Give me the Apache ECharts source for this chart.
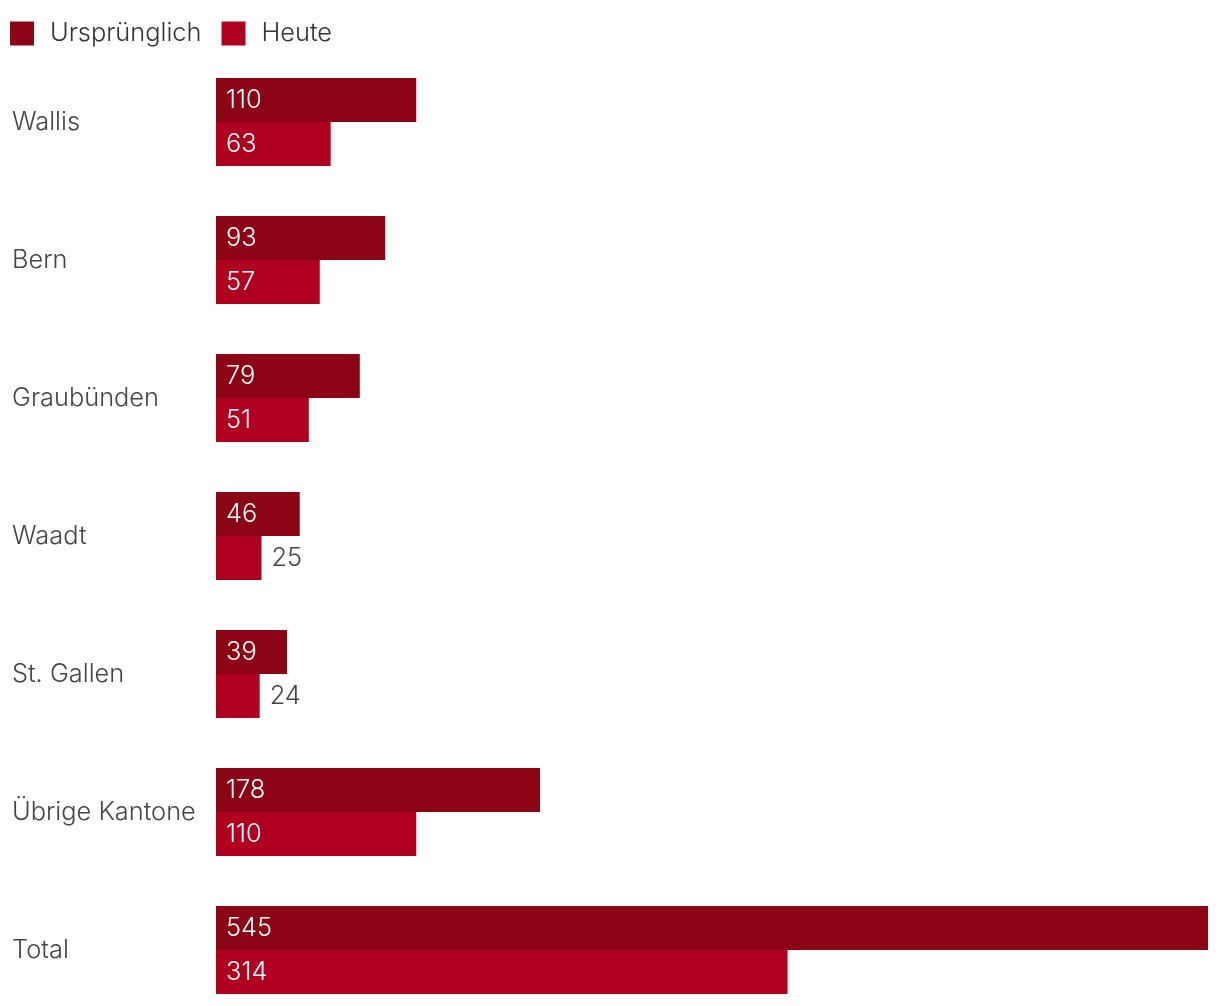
<!DOCTYPE html>
<html>
<head>
<meta charset="utf-8">
<script src="https://cdn.jsdelivr.net/npm/echarts@6/dist/echarts.min.js"></script>
<style>html,body{margin:0;padding:0;background:#fff;}#c{width:1220px;height:1006px;}</style>
</head>
<body>
<div id="c"></div>
<script>
const categories = ['Wallis', 'Bern', 'Graubünden', 'Waadt', 'St. Gallen', 'Übrige Kantone', 'Total'];
const seriesNames = ['Ursprünglich', 'Heute'];
const original = [110, 93, 79, 46, 39, 178, 545];
const today = [63, 57, 51, 25, 24, 110, 314];

const FONT = 'Inter, Roboto, sans-serif';
const FS = 25.4;
const colors = ['#8c0515', '#b0001f'];

function items(vals) {
  return vals.map(v => v < 30
    ? { value: v, label: { position: 'right', color: '#444', distance: 10 } }
    : { value: v });
}

const chart = echarts.init(document.getElementById('c'));
chart.setOption({
  animation: false,
  color: colors,
  legend: {
    left: 10, top: 21, padding: 0,
    itemWidth: 24, itemHeight: 24, itemGap: 20,
    icon: 'rect',
    textStyle: { fontFamily: FONT, fontSize: FS, color: '#333', fontWeight: 300, padding: [5, 0, 0, 11] },
    data: seriesNames
  },
  grid: { left: 216, right: 12, top: 122, height: 828, containLabel: false },
  xAxis: { type: 'value', min: 0, max: 545, show: false },
  yAxis: {
    type: 'category', inverse: true, data: categories, boundaryGap: false,
    axisLine: { show: false }, axisTick: { show: false }, splitLine: { show: false },
    axisLabel: { align: 'left', margin: 204, fontFamily: FONT, fontSize: FS, color: '#444', fontWeight: 300, padding: [3, 0, 0, 0] }
  },
  series: [
    { name: seriesNames[0], type: 'bar', data: items(original), barWidth: 44, barGap: '0%',
      label: { show: true, position: 'insideLeft', distance: 10, color: '#fff', fontFamily: FONT, fontSize: FS, fontWeight: 300, padding: [2, 0, 0, 0] } },
    { name: seriesNames[1], type: 'bar', data: items(today), barWidth: 44, barGap: '0%',
      label: { show: true, position: 'insideLeft', distance: 10, color: '#fff', fontFamily: FONT, fontSize: FS, fontWeight: 300, padding: [2, 0, 0, 0] } }
  ]
});
</script>
</body>
</html>
